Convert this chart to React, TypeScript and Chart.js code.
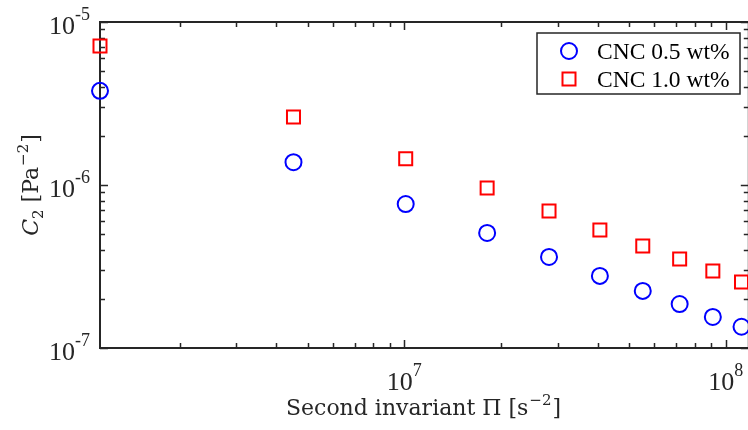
import React, { useEffect, useRef } from "react";
import { Chart, registerables } from "chart.js";

Chart.register(...registerables);

// Data
const shearInvariant = [1.13e6, 4.52e6, 1.01e7, 1.81e7, 2.82e7, 4.06e7, 5.52e7, 7.19e7, 9.12e7, 1.12e8];
const c2Cnc05 = [3.78e-6, 1.38e-6, 7.64e-7, 5.08e-7, 3.62e-7, 2.77e-7, 2.24e-7, 1.86e-7, 1.55e-7, 1.35e-7];
const c2Cnc10 = [7.13e-6, 2.61e-6, 1.45e-6, 9.59e-7, 6.92e-7, 5.3e-7, 4.23e-7, 3.52e-7, 2.97e-7, 2.54e-7];
const seriesLabels = ["CNC 0.5 wt%", "CNC 1.0 wt%"];
const xMajorExps = [7, 8];
const yMajorExps = [-7, -6, -5];
const xMin = 1.13e6;
const xMax = 1.18e8;
const yMin = 1e-7;
const yMax = 1e-5;

const AXIS = "#262626";
const FONT = "'Liberation Serif', 'Times New Roman', serif";
const TFONT = "'DejaVu Serif', serif";

function drawPow(ctx: CanvasRenderingContext2D, exp: string, x: number, baseline: number, align: "center" | "right") {
  ctx.font = `26px ${FONT}`;
  const wBase = ctx.measureText("10").width;
  ctx.font = `18px ${FONT}`;
  const wExp = ctx.measureText(exp).width;
  const total = wBase + wExp;
  const left = align === "center" ? x - total / 2 : x - total;
  ctx.textAlign = "left";
  ctx.textBaseline = "alphabetic";
  ctx.fillStyle = AXIS;
  ctx.font = `26px ${FONT}`;
  ctx.fillText("10", left, baseline);
  ctx.font = `18px ${FONT}`;
  ctx.fillText(exp, left + wBase, baseline - 14);
}

const axesPlugin = {
  id: "matlabAxes",
  beforeDatasetsDraw(chart: any) {
    const ctx: CanvasRenderingContext2D = chart.ctx;
    const { left, right, top, bottom } = chart.chartArea;
    const xs = chart.scales.x;
    const ys = chart.scales.y;
    ctx.save();
    ctx.strokeStyle = AXIS;
    ctx.lineWidth = 2;
    ctx.strokeRect(left, top, right - left, bottom - top);

    ctx.lineWidth = 1.5;
    // x ticks
    for (let n = 6; n <= 8; n++) {
      for (let k = 1; k <= 9; k++) {
        const v = k * Math.pow(10, n);
        if (v < xMin || v > xMax) continue;
        const px = Math.round(xs.getPixelForValue(v)) + 0.5;
        const len = k === 1 ? 8 : 5;
        ctx.beginPath();
        ctx.moveTo(px, bottom);
        ctx.lineTo(px, bottom - len);
        ctx.moveTo(px, top);
        ctx.lineTo(px, top + len);
        ctx.stroke();
      }
    }
    // y ticks
    for (let n = -7; n <= -5; n++) {
      for (let k = 1; k <= 9; k++) {
        const v = k * Math.pow(10, n);
        if (v < yMin * 0.999 || v > yMax * 1.001) continue;
        const py = Math.round(ys.getPixelForValue(v)) + 0.5;
        const len = k === 1 ? 8 : 5;
        ctx.beginPath();
        ctx.moveTo(left, py);
        ctx.lineTo(left + len, py);
        ctx.moveTo(right, py);
        ctx.lineTo(right - len, py);
        ctx.stroke();
      }
    }
    // tick labels
    for (const e of xMajorExps) {
      const px = xs.getPixelForValue(Math.pow(10, e));
      drawPow(ctx, String(e), px, 390, "center");
    }
    for (const e of yMajorExps) {
      const py = ys.getPixelForValue(Math.pow(10, e));
      drawPow(ctx, String(e), 90, py + 12, "right");
    }

    // x title
    ctx.fillStyle = AXIS;
    ctx.textBaseline = "alphabetic";
    ctx.textAlign = "left";
    const p1 = "Second invariant \u03A0 [s";
    const p2 = "\u22122";
    const p3 = "]";
    ctx.font = `22px ${TFONT}`;
    const w1 = ctx.measureText(p1).width;
    const w3 = ctx.measureText(p3).width;
    ctx.font = `15px ${TFONT}`;
    const w2 = ctx.measureText(p2).width;
    const cx = (left + 747) / 2;
    const x0 = cx - (w1 + w2 + w3 + 2) / 2;
    const base = 415;
    ctx.font = `22px ${TFONT}`;
    ctx.fillText(p1, x0, base);
    ctx.font = `15px ${TFONT}`;
    ctx.fillText(p2, x0 + w1 + 1, base - 10);
    ctx.font = `22px ${TFONT}`;
    ctx.fillText(p3, x0 + w1 + w2 + 2, base);

    // y title (rotated)
    ctx.save();
    const cy = (top + bottom) / 2;
    ctx.translate(38, cy);
    ctx.rotate(-Math.PI / 2);
    const q1 = "C";
    const q2 = "2";
    const q3 = " [Pa";
    const q4 = "\u22122";
    const q5 = "]";
    ctx.font = `italic 22px ${TFONT}`;
    const v1 = ctx.measureText(q1).width;
    ctx.font = `15px ${TFONT}`;
    const v2 = ctx.measureText(q2).width;
    const v4 = ctx.measureText(q4).width;
    ctx.font = `22px ${TFONT}`;
    const v3 = ctx.measureText(q3).width;
    const v5 = ctx.measureText(q5).width;
    const tot = v1 + v2 + v3 + v4 + v5 + 2;
    let tx = -tot / 2;
    ctx.font = `italic 22px ${TFONT}`;
    ctx.fillText(q1, tx, 0);
    tx += v1;
    ctx.font = `15px ${TFONT}`;
    ctx.fillText(q2, tx, 5);
    tx += v2;
    ctx.font = `22px ${TFONT}`;
    ctx.fillText(q3, tx, 0);
    tx += v3 + 1;
    ctx.font = `15px ${TFONT}`;
    ctx.fillText(q4, tx, -10);
    tx += v4 + 1;
    ctx.font = `22px ${TFONT}`;
    ctx.fillText(q5, tx, 0);
    ctx.restore();

    ctx.restore();
  },
  afterDatasetsDraw(chart: any) {
    const ctx: CanvasRenderingContext2D = chart.ctx;
    ctx.save();
    const bx = 537, by = 33, bw = 203, bh = 61;
    ctx.fillStyle = "#ffffff";
    ctx.fillRect(bx, by, bw, bh);
    ctx.strokeStyle = AXIS;
    ctx.lineWidth = 1.5;
    ctx.strokeRect(bx, by, bw, bh);
    // legend markers
    ctx.lineWidth = 2;
    ctx.strokeStyle = "#0000ff";
    ctx.beginPath();
    ctx.arc(569, 51, 8, 0, Math.PI * 2);
    ctx.stroke();
    ctx.strokeStyle = "#ff0000";
    ctx.strokeRect(569 - 6.5, 79 - 6.5, 13, 13);
    ctx.fillStyle = "#000000";
    ctx.font = `23.5px ${FONT}`;
    ctx.textAlign = "left";
    ctx.textBaseline = "alphabetic";
    ctx.fillText(seriesLabels[0], 597, 59);
    ctx.fillText(seriesLabels[1], 597, 87);
    ctx.restore();
  },
};

export default function App() {
  const ref = useRef<HTMLCanvasElement>(null);
  useEffect(() => {
    if (!ref.current) return;
    const chart = new Chart(ref.current, {
      type: "scatter",
      data: {
        datasets: [
          {
            label: seriesLabels[0],
            data: shearInvariant.map((x, i) => ({ x, y: c2Cnc05[i] })),
            pointStyle: "circle",
            pointRadius: 8,
            pointBorderWidth: 2,
            borderColor: "#0000ff",
            backgroundColor: "rgba(0,0,0,0)",
            pointBackgroundColor: "rgba(0,0,0,0)",
            pointBorderColor: "#0000ff",
            showLine: false,
            clip: false as any,
          },
          {
            label: seriesLabels[1],
            data: shearInvariant.map((x, i) => ({ x, y: c2Cnc10[i] })),
            pointStyle: "rect",
            pointRadius: 9.2,
            pointBorderWidth: 2,
            borderColor: "#ff0000",
            backgroundColor: "rgba(0,0,0,0)",
            pointBackgroundColor: "rgba(0,0,0,0)",
            pointBorderColor: "#ff0000",
            showLine: false,
            clip: false as any,
          },
        ],
      },
      options: {
        responsive: false,
        animation: false,
        devicePixelRatio: 1,
        layout: { padding: { left: 100, right: 10, top: 22, bottom: 82 } },
        plugins: { legend: { display: false }, tooltip: { enabled: false } },
        events: [],
        scales: {
          x: { type: "logarithmic", min: xMin, max: xMax, display: false },
          y: { type: "logarithmic", min: yMin, max: yMax, display: false },
        },
      },
      plugins: [axesPlugin],
    });
    return () => chart.destroy();
  }, []);
  return (
    <div style={{ position: "fixed", left: 0, top: 0, width: 748, height: 430, overflow: "hidden", background: "#fff" }}>
      <canvas ref={ref} width={760} height={430} style={{ display: "block" }} />
    </div>
  );
}
